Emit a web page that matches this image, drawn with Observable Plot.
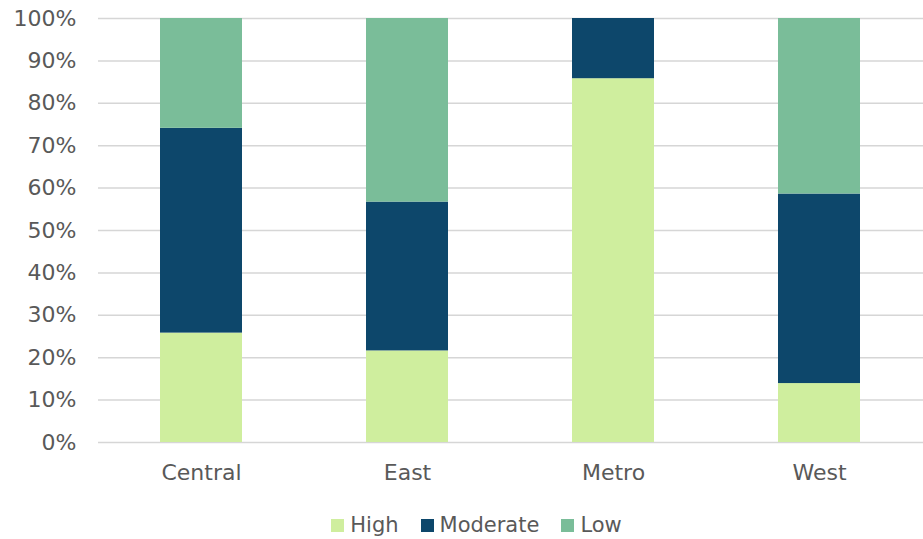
<!DOCTYPE html>
<html>
<head>
<meta charset="utf-8">
<script src="https://cdn.jsdelivr.net/npm/d3@7"></script>
<script src="https://cdn.jsdelivr.net/npm/@observablehq/plot@0.6"></script>
<style>
  html, body { margin: 0; padding: 0; background: #fff; }
  body { width: 923px; height: 539px; overflow: hidden; font-family: "DejaVu Sans", sans-serif; }
  #legend { display: flex; justify-content: center; align-items: center; height: 28px; margin-top: 16px; color: #595959; font-size: 21px; padding-left: 30px; }
  .item { display: flex; align-items: center; margin: 0 11px; }
  .sw { width: 13px; height: 13px; margin-right: 6px; }
</style>
</head>
<body>
<div id="chart"></div>
<div id="legend"></div>
<script>
const regions = ["Central", "East", "Metro", "West"];
const levels = ["High", "Moderate", "Low"];
const high = [0.258, 0.216, 0.858, 0.139];
const moderate = [0.483, 0.351, 0.142, 0.447];
const low = [0.259, 0.433, 0.0, 0.414];
const yTicks = [0, 0.1, 0.2, 0.3, 0.4, 0.5, 0.6, 0.7, 0.8, 0.9, 1.0];
const colors = ["#CFEE9E", "#0D476B", "#7ABD99"];

const series = [high, moderate, low];
const data = [];
levels.forEach((lv, i) => regions.forEach((r, j) => data.push({region: r, level: lv, value: series[i][j]})));

const chart = Plot.plot({
  width: 923,
  height: 495,
  marginTop: 18,
  marginBottom: 53,
  marginLeft: 98,
  marginRight: 0,
  style: {fontFamily: "DejaVu Sans, sans-serif", fontSize: "22px", color: "#595959", background: "#fff"},
  x: {domain: regions, paddingInner: 0.6, paddingOuter: 0.3, label: null, tickSize: 0, tickPadding: 22},
  y: {domain: [0, 1], ticks: yTicks, tickFormat: d3.format(".0%"), label: null, tickSize: 0, tickPadding: 22},
  color: {domain: levels, range: colors},
  marks: [
    Plot.ruleY(yTicks, {stroke: "#d6d6d6", strokeWidth: 1.5}),
    Plot.barY(data, {x: "region", y: "value", fill: "level", order: levels}),
    Plot.axisX({tickSize: 0, tickPadding: 22, label: null, fill: "#595959"}),
    Plot.axisY({ticks: yTicks, tickFormat: d3.format(".0%"), tickSize: 0, tickPadding: 22, label: null, fill: "#595959"})
  ]
});
document.getElementById("chart").appendChild(chart);

const legend = document.getElementById("legend");
levels.forEach((lv, i) => {
  const it = document.createElement("div");
  it.className = "item";
  const sw = document.createElement("div");
  sw.className = "sw";
  sw.style.background = colors[i];
  const t = document.createElement("span");
  t.textContent = lv;
  it.appendChild(sw); it.appendChild(t);
  legend.appendChild(it);
});
</script>
</body>
</html>
